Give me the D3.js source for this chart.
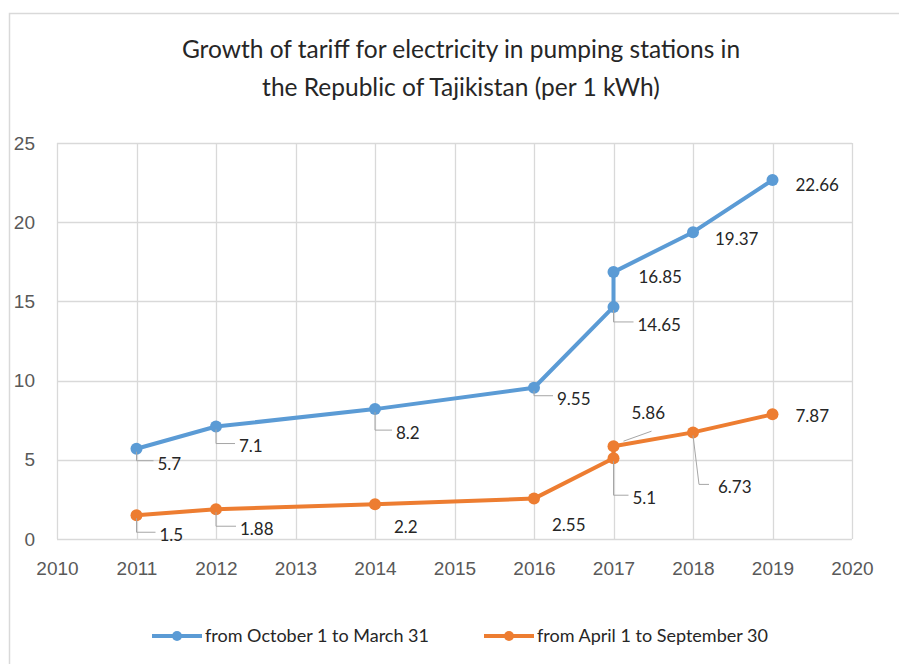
<!DOCTYPE html>
<html>
<head>
<meta charset="utf-8">
<script src="https://cdn.jsdelivr.net/npm/d3@7"></script>
<style>
  body { margin: 0; background: #fff; }
  svg { display: block; font-family: Lato, "Open Sans", sans-serif; }
  .tick text { fill: #595959; font-size: 19px; }
  .lbl { fill: #262626; font-size: 17px; }
</style>
</head>
<body>
<svg id="chart" width="899" height="664"></svg>
<script>
// data
var years = [2011, 2012, 2014, 2016, 2017, 2017, 2018, 2019];
var winterTariff = [5.7, 7.1, 8.2, 9.55, 14.65, 16.85, 19.37, 22.66];
var summerTariff = [1.5, 1.88, 2.2, 2.55, 5.1, 5.86, 6.73, 7.87];
var xTicks = [2010, 2011, 2012, 2013, 2014, 2015, 2016, 2017, 2018, 2019, 2020];
var yTicks = [0, 5, 10, 15, 20, 25];
var seriesNames = ["from October 1 to March 31", "from April 1 to September 30"];

// label placement (dx, dy of text from point, leader type)
var winterLbl = [
  {dx: 21, dy: 15, lead: "L"}, {dx: 23, dy: 20, lead: "L"}, {dx: 21, dy: 24, lead: "L"},
  {dx: 23, dy: 11, lead: "L"}, {dx: 24, dy: 18, lead: "L"}, {dx: 25, dy: 5},
  {dx: 22, dy: 7}, {dx: 23, dy: 5}
];
var summerLbl = [
  {dx: 23, dy: 20, lead: "L"}, {dx: 24, dy: 20, lead: "L"}, {dx: 19, dy: 23},
  {dx: 18, dy: 26}, {dx: 19, dy: 40, lead: "L"}, {dx: 18, dy: -33, lead: "D"},
  {dx: 25, dy: 55, lead: "S"}, {dx: 23, dy: 2}
];

var svg = d3.select("#chart");
var W = 899, H = 664;

// outer frame
svg.append("path")
  .attr("d", "M9.5," + H + "V13.5H" + W)
  .attr("fill", "none").attr("stroke", "#d9d9d9").attr("stroke-width", 1.5);

var x = d3.scaleLinear().domain([2010, 2020]).range([57, 852]);
var y = d3.scaleLinear().domain([0, 25]).range([539, 143]);

// title
svg.append("text").attr("x", 461).attr("y", 58).attr("text-anchor", "middle")
  .attr("font-size", 24.5).attr("fill", "#262626")
  .text("Growth of tariff for electricity in pumping stations in");
svg.append("text").attr("x", 461).attr("y", 96).attr("text-anchor", "middle")
  .attr("font-size", 24.5).attr("fill", "#262626")
  .text("the Republic of Tajikistan (per 1 kWh)");

// grid
svg.append("g").selectAll("line").data(yTicks).join("line")
  .attr("x1", 57).attr("x2", 852)
  .attr("y1", function(d){ return Math.round(y(d)) + 0.5; })
  .attr("y2", function(d){ return Math.round(y(d)) + 0.5; })
  .attr("stroke", "#d9d9d9").attr("stroke-width", 1.3);
svg.append("g").selectAll("line").data(xTicks).join("line")
  .attr("x1", function(d){ return Math.round(x(d)) + 0.5; })
  .attr("x2", function(d){ return Math.round(x(d)) + 0.5; })
  .attr("y1", 143).attr("y2", 539)
  .attr("stroke", "#d9d9d9").attr("stroke-width", 1.3);

// axes (labels only)
var yAxis = svg.append("g").attr("transform", "translate(35,0)")
  .call(d3.axisLeft(y).tickValues(yTicks).tickSize(0).tickPadding(0));
yAxis.select(".domain").remove();
var xAxis = svg.append("g").attr("transform", "translate(0,561)")
  .call(d3.axisBottom(x).tickValues(xTicks).tickFormat(d3.format("d")).tickSize(0).tickPadding(0));
xAxis.select(".domain").remove();

// series
function drawSeries(vals, color, lbls) {
  var pts = years.map(function(yr, i){ return {x: yr, v: vals[i], l: lbls[i]}; });
  var line = d3.line().x(function(d){ return x(d.x); }).y(function(d){ return y(d.v); });
  svg.append("path").datum(pts).attr("d", line)
    .attr("fill", "none").attr("stroke", color).attr("stroke-width", 4)
    .attr("stroke-linejoin", "round");
  svg.append("g").selectAll("circle").data(pts).join("circle")
    .attr("cx", function(d){ return x(d.x); }).attr("cy", function(d){ return y(d.v); })
    .attr("r", 6).attr("fill", color);

  var g = svg.append("g");
  pts.forEach(function(d){
    var px = x(d.x), py = y(d.v), tx = px + d.l.dx, ty = py + d.l.dy;
    if (d.l.lead == "L") {
      g.append("path").attr("d", "M" + px + "," + (py + 3) + "V" + (ty - 3) + "H" + (tx - 4))
        .attr("fill", "none").attr("stroke", "#a6a6a6").attr("stroke-width", 1);
    } else if (d.l.lead == "D") {
      g.append("path").attr("d", "M" + (px + 10) + "," + (py - 5) + "L" + (px + 38) + "," + (py - 15))
        .attr("fill", "none").attr("stroke", "#a6a6a6").attr("stroke-width", 1);
    } else if (d.l.lead == "S") {
      g.append("path").attr("d", "M" + px + "," + (py + 3) + "L" + (px + 6) + "," + (ty - 3) + "H" + (tx - 9))
        .attr("fill", "none").attr("stroke", "#a6a6a6").attr("stroke-width", 1);
    }
    g.append("text").attr("class", "lbl").attr("x", tx).attr("y", ty)
      .attr("dy", "0.35em").text(d.v);
  });
}
drawSeries(winterTariff, "#5b9bd5", winterLbl);
drawSeries(summerTariff, "#ed7d31", summerLbl);

// legend
var legX = [152, 484];
var colors = ["#5b9bd5", "#ed7d31"];
seriesNames.forEach(function(name, i){
  var lg = svg.append("g").attr("transform", "translate(" + legX[i] + ",636)");
  lg.append("line").attr("x1", 0).attr("x2", 50).attr("stroke", colors[i]).attr("stroke-width", 4);
  lg.append("circle").attr("cx", 25).attr("r", 5).attr("fill", colors[i]);
  lg.append("text").attr("x", 53).attr("dy", "0.35em").attr("font-size", 18)
    .attr("fill", "#262626").text(name);
});
</script>
</body>
</html>
